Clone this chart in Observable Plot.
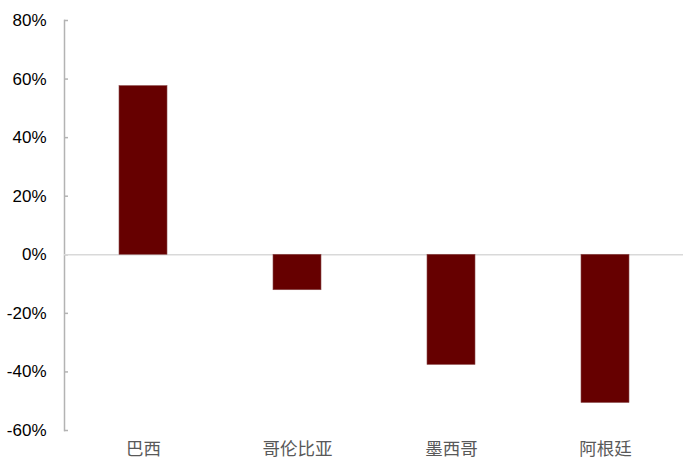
<!DOCTYPE html>
<html>
<head>
<meta charset="utf-8">
<script src="https://cdn.jsdelivr.net/npm/d3@7"></script>
<script src="https://cdn.jsdelivr.net/npm/@observablehq/plot@0.6"></script>
<style>
  html, body { margin: 0; padding: 0; background: #fff; }
</style>
</head>
<body>
<div id="chart"></div>
<script>
const categories = ["巴西", "哥伦比亚", "墨西哥", "阿根廷"];
const values = [0.576, -0.121, -0.376, -0.506];
const yTicks = [-0.6, -0.4, -0.2, 0, 0.2, 0.4, 0.6, 0.8];

const data = categories.map((c, i) => ({ country: c, value: values[i] }));

const chart = Plot.plot({
  width: 700,
  height: 476,
  marginLeft: 64,
  marginRight: 17,
  marginTop: 20,
  marginBottom: 46,
  style: { fontFamily: "'Liberation Sans', Arial, sans-serif", background: "#fff" },
  x: { domain: categories, paddingInner: 0.69, paddingOuter: 0.345, label: null },
  y: { domain: [-0.6, 0.8], label: null },
  marks: [
    Plot.frame({ anchor: "left", stroke: "#b3b3b3", strokeWidth: 1.5 }),
    Plot.axisY({ ticks: yTicks, tickSize: -4, text: null, stroke: "#b3b3b3", strokeWidth: 1.5, label: null }),
    Plot.axisY({ ticks: yTicks, tickSize: 0, tickPadding: 18, tickFormat: d => Math.round(d * 100) + "%", fontSize: 17, fill: "#000", label: null }),
    Plot.ruleY([0], { stroke: "#d9d9d9", strokeWidth: 1.5 }),
    Plot.barY(data, { x: "country", y: "value", fill: "#660000", stroke: "#8a4a4a", strokeWidth: 0.6 }),
    Plot.axisX({ tickSize: 0, tickPadding: 12, fontSize: 17.5, fill: "#595959", fontFamily: "'Noto Sans CJK SC', sans-serif", label: null })
  ]
});
document.getElementById("chart").appendChild(chart);
</script>
</body>
</html>
